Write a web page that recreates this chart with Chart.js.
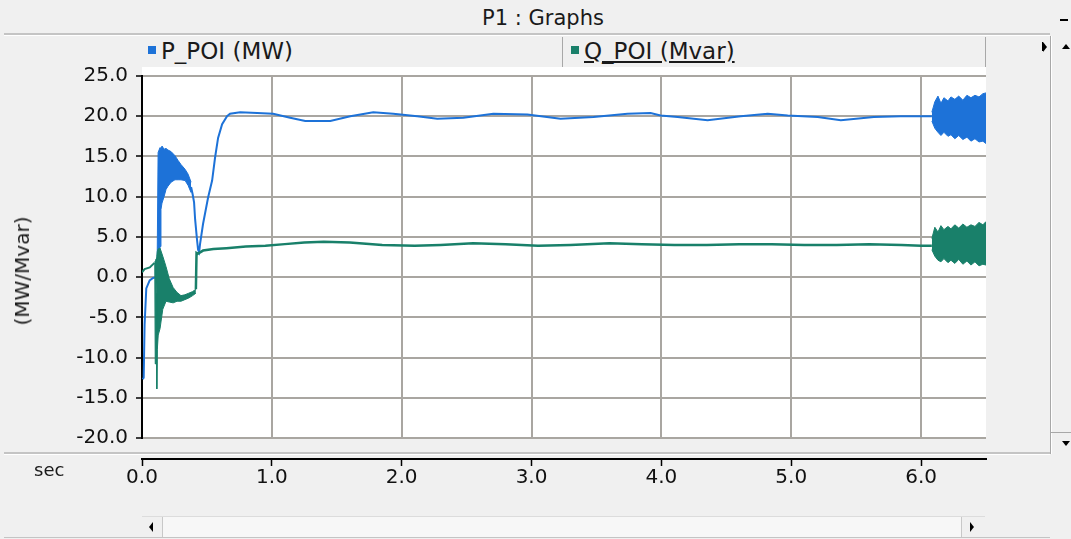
<!DOCTYPE html>
<html lang="en">
<head>
<meta charset="UTF-8">
<title>P1 : Graphs</title>
<script src="https://cdn.jsdelivr.net/npm/chart.js"></script>
<style>
    body {
        margin: 0;
        width: 1071px;
        height: 539px;
        overflow: hidden;
        position: relative;
        background: #f0f0f0;
        font-family: "DejaVu Sans", sans-serif;
        color: #1a1a1a;
    }
    .abs { position: absolute; }
    #title { left: 420px; width: 246px; top: 6px; text-align: center; font-size: 21px; }
    .groove { height: 2px; background: #c4c4c4; border-bottom: 1px solid #fff; }
    #legend { left: 140px; top: 37px; width: 845px; height: 30px; border-right: 1px solid #a8a8a8; }
    .item { position: absolute; top: 1px; font-size: 23px; white-space: nowrap; }
    .swatch { display: inline-block; width: 8px; height: 8px; margin-right: 5px; vertical-align: 5px; }
    #sep { left: 562px; top: 37px; width: 1px; height: 30px; background: #a8a8a8; }
    #plotbg { left: 142px; top: 67px; width: 844px; height: 371px; background: #fff; }
    #chart { left: 0; top: 56px; }
    #axis { left: 0; top: 440px; }
    #ytitle { left: 22px; top: 271px; font-size: 20px; transform: translate(-50%, -50%) rotate(-90deg); white-space: nowrap; }
    #sec { left: 34px; top: 459px; font-size: 18px; }
    .tri-up { width: 0; height: 0; border-left: 4px solid transparent; border-right: 4px solid transparent; border-bottom: 5px solid #000; }
    .tri-down { width: 0; height: 0; border-left: 4px solid transparent; border-right: 4px solid transparent; border-top: 5px solid #000; }
    .tri-left { width: 0; height: 0; border-top: 5px solid transparent; border-bottom: 5px solid transparent; border-right: 4px solid #000; }
    .tri-right { width: 0; height: 0; border-top: 5px solid transparent; border-bottom: 5px solid transparent; border-left: 4px solid #000; }
    #hscroll { left: 142px; top: 516px; width: 843px; height: 21px; border-top: 1px solid #dcdcdc; }
    #thumb { left: 162px; top: 517px; width: 798px; height: 20px; background: #f7f7f7; border-left: 1px solid #c8c8c8; border-right: 1px solid #c8c8c8; }
</style>
</head>
<body>
    <div id="title" class="abs">P1 : Graphs</div>
    <div class="abs" style="left:1060px; top:19px; width:8px; height:2px; background:#000;"></div>
    <div class="abs groove" style="left:4px; top:33px; width:1046px;"></div>

    <div id="legend" class="abs">
        <div class="item" style="left:8px;"><span class="swatch" style="background:#1d72d8;"></span>P_POI (MW)</div>
        <div class="item" style="left:431px; text-decoration: underline;"><span class="swatch" style="background:#19806a;"></span>Q_POI (Mvar)</div>
    </div>
    <div id="sep" class="abs"></div>

    <!-- right hand scroll bar -->
    <div class="abs" style="left:1042px; top:42px; width:1px; height:9px; background:#000;"></div>
    <div class="abs tri-right" style="left:1043px; top:42px;"></div>
    <div class="abs" style="left:1050px; top:36px; width:1px; height:418px; background:#a8a8a8;"></div>
    <div class="abs" style="left:1051px; top:36px; width:1px; height:418px; background:#fff;"></div>
    <div class="abs tri-up" style="left:1062px; top:44px;"></div>
    <div class="abs" style="left:1051px; top:432px; width:20px; height:1px; background:#a8a8a8;"></div>
    <div class="abs tri-down" style="left:1062px; top:441px;"></div>

    <div id="plotbg" class="abs"></div>
    <canvas id="chart" class="abs" width="990" height="402"></canvas>
    <div id="ytitle" class="abs">(MW/Mvar)</div>

    <div class="abs groove" style="left:4px; top:452px; width:1046px;"></div>
    <canvas id="axis" class="abs" width="990" height="60"></canvas>
    <div id="sec" class="abs">sec</div>

    <!-- bottom scroll bar -->
    <div id="hscroll" class="abs"></div>
    <div id="thumb" class="abs"></div>
    <div class="abs tri-left" style="left:149px; top:522px;"></div>
    <div class="abs tri-right" style="left:970px; top:522px;"></div>
    <div class="abs" style="left:4px; top:537px; width:1046px; height:1px; background:#c4c4c4;"></div>

<script>
    // axis ticks
    var xTicks = [0, 1, 2, 3, 4, 5, 6];
    var yTicks = [-20, -15, -10, -5, 0, 5, 10, 15, 20, 25];

    // P_POI (MW): start-up trace, first oscillation band, settled trace, last band
    var pLeadT = [0.005, 0.013, 0.02, 0.033, 0.059, 0.085, 0.116];
    var pLeadV = [-12.7, -12.5, -5.9, -1.4, -0.4, -0.1, 0.0];

    var pBandT  = [0.116, 0.124, 0.139, 0.146, 0.154, 0.170, 0.185, 0.200, 0.224, 0.254, 0.278, 0.300, 0.332, 0.355, 0.378];
    var pBandHi = [0.3, 15.5, 16.1, 15.8, 16.3, 15.9, 16.0, 15.8, 15.6, 15.1, 14.5, 14.0, 13.4, 12.8, 11.8];
    var pBandLo = [0.0, 0.0, 3.8, 8.4, 9.2, 10.0, 10.9, 11.3, 11.8, 12.1, 12.1, 12.1, 12.0, 11.4, 10.5];

    var pT = [0.378, 0.39, 0.401, 0.409, 0.424, 0.432, 0.44, 0.447, 0.47, 0.509, 0.54, 0.563, 0.586, 0.617, 0.655,
              0.678, 0.756, 0.887, 1.01, 1.141, 1.257, 1.45, 1.604, 1.781, 1.935, 2.12, 2.274, 2.475, 2.706, 2.968,
              3.223, 3.477, 3.739, 3.917, 3.994, 4.125, 4.356, 4.611, 4.819, 4.973, 5.204, 5.382, 5.636, 5.844, 6.083];
    var pV = [11.2, 10.3, 9.3, 7.2, 4.6, 3.4, 3.1, 4.1, 6.6, 9.9, 12.0, 14.9, 17.3, 19.0, 20.0,
              20.3, 20.5, 20.4, 20.3, 19.8, 19.4, 19.4, 20.0, 20.5, 20.3, 20.0, 19.7, 19.8, 20.3, 20.2,
              19.7, 19.9, 20.3, 20.4, 20.1, 19.9, 19.5, 20.0, 20.3, 20.1, 19.9, 19.5, 19.9, 20.0, 20.0];

    var endT   = [6.083, 6.106, 6.13, 6.153, 6.176, 6.207, 6.23, 6.26, 6.29, 6.322, 6.353, 6.384, 6.415, 6.446, 6.476, 6.5];
    var pEndHi = [20.5, 21.8, 22.5, 21.6, 22.3, 21.9, 22.4, 22.1, 22.5, 22.0, 22.6, 22.3, 22.6, 22.4, 22.8, 22.9];
    var pEndLo = [19.4, 18.5, 18.0, 17.6, 18.0, 17.5, 17.7, 17.2, 17.6, 17.1, 17.4, 16.9, 17.2, 16.8, 16.9, 16.6];

    // Q_POI (Mvar)
    var qLeadT = [0.0, 0.02, 0.06, 0.098];
    var qLeadV = [0.6, 1.0, 1.2, 1.8];

    var qBandT  = [0.098, 0.102, 0.106, 0.110, 0.114, 0.118, 0.125, 0.139, 0.160, 0.185, 0.210, 0.240, 0.270, 0.300, 0.330, 0.360, 0.390, 0.415];
    var qBandHi = [1.9, 2.0, 2.2, 2.3, 2.6, 3.2, 3.5, 3.6, 2.6, 1.3, -0.2, -1.3, -1.9, -2.3, -2.2, -2.0, -1.8, -1.5];
    var qBandLo = [1.7, -10.8, 0.5, -2.0, -13.9, -9.0, -7.2, -6.4, -4.0, -3.0, -3.1, -3.2, -3.0, -3.0, -2.8, -2.6, -2.3, -2.0];

    var qT = [0.415, 0.42, 0.43, 0.47, 0.55, 0.65, 0.8, 0.95, 1.1, 1.25, 1.4, 1.6, 1.85, 2.1, 2.3, 2.55,
              2.8, 3.05, 3.3, 3.6, 3.85, 4.1, 4.35, 4.6, 4.85, 5.1, 5.35, 5.6, 5.85, 6.0, 6.083];
    var qV = [-1.5, 3.0, 2.9, 3.3, 3.5, 3.6, 3.8, 3.9, 4.1, 4.3, 4.4, 4.3, 4.0, 3.9, 4.0, 4.2,
              4.1, 3.9, 4.0, 4.2, 4.1, 4.0, 4.0, 4.1, 4.1, 4.0, 4.0, 4.1, 4.0, 3.9, 3.9];

    var qEndHi = [4.8, 6.2, 5.6, 6.4, 5.9, 6.3, 6.0, 6.5, 6.1, 6.6, 6.2, 6.5, 6.3, 6.8, 6.5, 6.9];
    var qEndLo = [3.4, 2.6, 2.1, 1.9, 2.3, 1.8, 2.1, 1.7, 2.2, 1.6, 2.0, 1.5, 1.9, 1.4, 1.6, 1.5];

    var blue = '#1d72d8';
    var green = '#19806a';
    var gridColor = '#a9a6a1';
    var tickFont = { family: 'DejaVu Sans', size: 20 };

    function trace(ts, vs, color, width, fill) {
        return {
            data: ts.map(function (t, i) { return { x: t, y: vs[i] }; }),
            borderColor: color,
            backgroundColor: color,
            borderWidth: width,
            pointRadius: 0,
            tension: 0,
            fill: fill || false
        };
    }

    function fixedTicks(list) {
        return function (scale) { scale.ticks = list.map(function (v) { return { value: v }; }); };
    }

    // green first so it sits on top of the blue trace
    var datasets = [
        trace(qLeadT, qLeadV, green, 2),
        trace(qBandT, qBandHi, green, 1),
        trace(qBandT, qBandLo, green, 1, '-1'),
        trace(qT, qV, green, 2.5),
        trace(endT, qEndHi, green, 1),
        trace(endT, qEndLo, green, 1, '-1'),
        trace(pLeadT, pLeadV, blue, 2),
        trace(pBandT, pBandHi, blue, 1),
        trace(pBandT, pBandLo, blue, 1, '-1'),
        trace(pT, pV, blue, 2),
        trace(endT, pEndHi, blue, 1),
        trace(endT, pEndLo, blue, 1, '-1')
    ];

    new Chart(document.getElementById('chart'), {
        type: 'line',
        data: { datasets: datasets },
        options: {
            responsive: false,
            animation: false,
            layout: { padding: { top: 9, right: 4, bottom: 0, left: 0 } },
            plugins: { legend: { display: false }, tooltip: { enabled: false } },
            scales: {
                x: {
                    type: 'linear', min: 0, max: 6.5,
                    afterBuildTicks: fixedTicks(xTicks),
                    afterFit: function (s) { s.height = 0; },
                    ticks: { display: false },
                    grid: {
                        color: function (ctx) { return ctx.tick && ctx.tick.value === 0 ? 'rgba(0,0,0,0)' : gridColor; },
                        lineWidth: 2, drawTicks: false
                    },
                    border: { display: false }
                },
                y: {
                    min: -20, max: 25,
                    afterBuildTicks: fixedTicks(yTicks),
                    afterFit: function (s) { s.width = 142; },
                    ticks: { color: '#111', font: tickFont, padding: 8, callback: function (v) { return v.toFixed(1); } },
                    grid: { color: gridColor, lineWidth: 2, tickLength: 6, tickColor: '#000', tickWidth: 1.5 },
                    border: { color: '#000', width: 2 }
                }
            }
        }
    });

    // time axis strip under the plot
    new Chart(document.getElementById('axis'), {
        type: 'line',
        data: { datasets: [] },
        options: {
            responsive: false,
            animation: false,
            layout: { padding: { top: 0, right: 4, bottom: 0, left: 142 } },
            plugins: { legend: { display: false }, tooltip: { enabled: false } },
            scales: {
                x: {
                    type: 'linear', min: 0, max: 6.5, position: 'bottom',
                    afterBuildTicks: fixedTicks(xTicks),
                    afterFit: function (s) { s.height = 41; },
                    ticks: { color: '#111', font: tickFont, padding: 0, maxRotation: 0, autoSkip: false,
                             callback: function (v) { return v.toFixed(1); } },
                    grid: { drawOnChartArea: false, tickLength: 7, tickColor: '#000', tickWidth: 1.5 },
                    border: { color: '#000', width: 2 }
                },
                y: { display: false }
            }
        }
    });
</script>
</body>
</html>
